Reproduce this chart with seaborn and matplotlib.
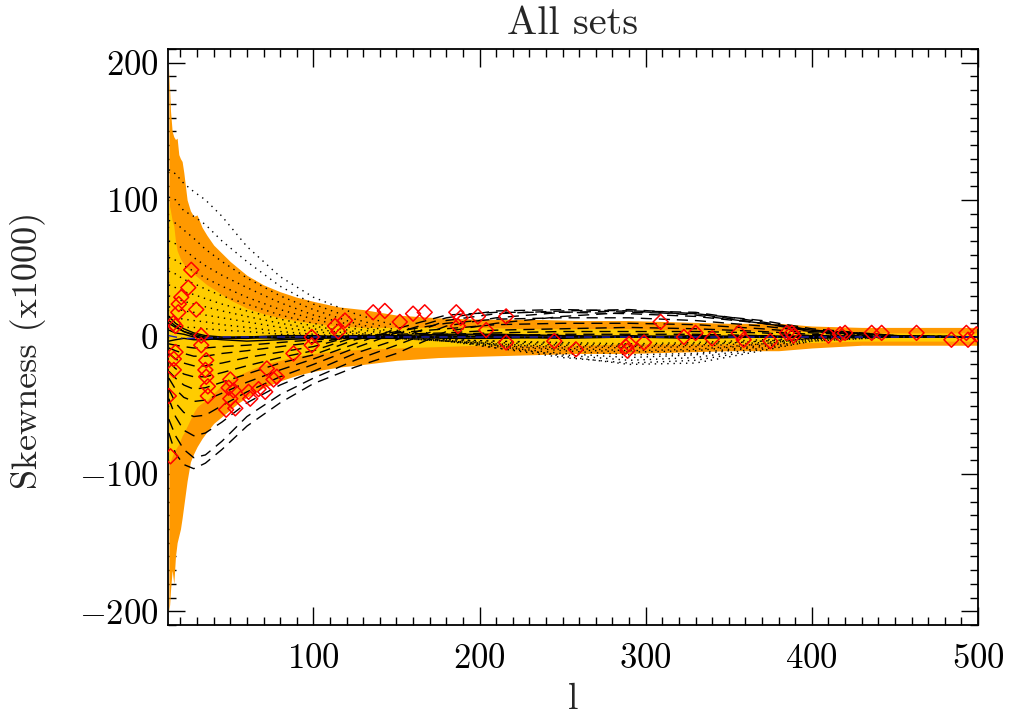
import numpy as np
import pandas as pd
import matplotlib
matplotlib.use("Agg")
import matplotlib.pyplot as plt
import seaborn as sns
from matplotlib.ticker import MultipleLocator

# ---------------- data ----------------
band_l = [13, 13.5, 14, 15, 16, 17, 18, 19, 20, 21, 22, 24, 26, 28, 30, 33, 36, 40, 45, 50,
          55, 60, 70, 80, 90, 100, 115, 130, 150, 175, 200, 230, 260, 290, 320, 350, 380, 400,
          430, 460, 500]
orange_hi = [197, 180, 165, 150, 146, 144, 145, 133, 130, 128, 120, 100, 92, 88, 89, 80, 74, 67,
             61, 55, 50, 45, 38, 33, 29, 26, 22, 20, 16, 14, 13, 13, 12, 12, 11, 10, 10, 8, 7, 7, 7]
orange_lo = [-200, -195, -185, -170, -180, -160, -150, -145, -140, -132, -123, -105, -91, -85, -80,
             -74, -69, -63, -58, -53, -48, -44, -37, -32, -28, -25, -22, -20, -17, -15, -14, -13,
             -12, -12, -11, -10, -10, -8, -6, -6, -6]
yellow_hi = [100, 95, 92, 85, 81, 70, 63, 60, 57, 55, 53, 50, 48, 46, 44, 41, 38, 35, 31, 27, 24,
             21, 17, 14, 12, 10, 8, 7, 7, 7, 7, 6, 6, 6, 5, 5, 4, 4, 3, 3, 3]
yellow_lo = [-93, -92, -90, -87, -84, -82, -80, -78, -75, -72, -70, -65, -60, -55, -51, -48, -46,
             -41, -35, -31, -28, -25, -20, -17, -14, -12, -10, -9, -8, -7, -6, -6, -6, -5, -5, -5,
             -4, -4, -3, -3, -3]

line_l = [13, 17, 22, 28, 35, 45, 60, 80, 100, 125, 150, 180, 210, 250, 290, 330, 370, 400, 450, 500]

dotted_lines = {
    "dot1": [122, 119, 112, 106, 100, 88, 66, 44, 29, 17, 8, 0, -6, -14, -20, -19, -10, -3, 0, 0],
    "dot2": [102, 100, 92, 88, 82, 70, 55, 37, 24, 13, 5, -2, -8, -15, -19, -17, -9, -3, 0, 0],
    "dot3": [85, 83, 78, 72, 64, 55, 43, 30, 20, 10, 3, -3, -8, -13, -17, -15, -8, -2, 0, 0],
    "dot4": [70, 68, 64, 58, 52, 45, 36, 25, 16, 8, 2, -3, -7, -12, -15, -13, -7, -2, 1, 0],
    "dot5": [58, 56, 52, 48, 43, 37, 29, 20, 13, 6, 1, -3, -6, -10, -13, -12, -6, -1, 1, 0],
    "dot6": [48, 46, 42, 39, 35, 30, 24, 16, 10, 4, 0, -3, -6, -9, -11, -10, -5, -1, 1, 0],
    "dot7": [38, 36, 33, 31, 28, 24, 19, 13, 8, 3, -1, -3, -5, -8, -10, -9, -5, -1, 0, 0],
    "dot8": [30, 28, 26, 24, 22, 19, 15, 10, 6, 2, -1, -3, -5, -7, -8, -7, -4, -1, 0, 0],
    "dot9": [22, 21, 19, 18, 16, 14, 11, 7, 4, 1, -1, -3, -4, -6, -7, -6, -3, -1, 0, 0],
    "dot10": [15, 14, 13, 12, 11, 9, 7, 4, 2, 0, -1, -2, -3, -5, -6, -5, -3, -1, 0, 0],
    "dot11": [8, 8, 7, 7, 6, 5, 4, 2, 1, 0, -1, -2, -3, -4, -5, -4, -2, -1, 0, 0],
}
dashed_lines = {
    "dash1": [-70, -85, -93, -96, -92, -82, -65, -48, -34, -22, -12, 4, 10, 15, 18, 17, 10, 5, 1, 0],
    "dash2": [-60, -72, -82, -88, -86, -76, -58, -42, -30, -17, -6, 8, 14, 18, 19, 18, 11, 5, 1, 0],
    "dash3": [-45, -58, -68, -72, -70, -62, -48, -35, -25, -12, -2, 12, 17, 19, 20, 17, 12, 6, 1, 0],
    "dash4": [-38, -48, -55, -58, -57, -50, -40, -29, -20, -8, 3, 14, 19, 20, 19, 16, 10, 5, 1, 0],
    "dash5": [-30, -38, -44, -47, -46, -41, -33, -24, -16, -5, 6, 16, 18, 18, 17, 15, 10, 4, 1, 0],
    "dash6": [-25, -30, -35, -38, -37, -33, -27, -19, -13, -2, 4, 10, 13, 14, 14, 12, 8, 4, 0, 0],
    "dash7": [-18, -23, -27, -29, -29, -26, -21, -15, -10, 0, 3, 6, 9, 10, 10, 9, 6, 3, 0, 0],
    "dash8": [-12, -16, -19, -21, -21, -19, -15, -11, -7, 1, 2, 3, 5, 6, 7, 6, 4, 2, 0, 0],
    "dash9": [-8, -10, -12, -14, -14, -12, -10, -7, -4, 0, 1, 2, 3, 4, 4, 4, 3, 1, 0, 0],
    "dash10": [-5, -6, -7, -8, -8, -7, -6, -4, -2, -1, 0, 1, 1, 2, 2, 2, 1, 1, 0, 0],
}
solid_lines = {
    "sol1": [15, 10, 6, 3, 1, 0, 0, 1, 1, 0, 1, 2, 2, 1, 0, 0, 1, 0, 0, 0],
    "sol2": [10, 7, 4, 2, 0, -1, 0, 0, -1, 0, 0, 1, 0, -1, 0, 1, 0, 0, 0, 0],
    "sol3": [5, 3, 2, 0, -1, -1, -1, 0, 0, 1, 0, -1, -1, 0, 0, 0, 0, 0, 0, 0],
    "sol4": [-3, -2, -1, -2, -2, -1, 0, -1, 0, -1, -1, 0, 1, 1, 0, -1, 0, 1, 0, 0],
    "sol5": [12, 8, 4, 1, -1, -2, -3, -2, -1, 0, 0, 0, 0, 0, 1, 0, 0, 0, 0, 0],
}
blue_line = [1, 0, -1, -1, -1, 0, 0, 0, 0, 0, 0, 0, 0, 0, 0, 0, 0, 0, 0, 0]

diamond_l = [26.5, 24.7, 20.5, 19, 18.7, 29.5, 15.7, 17, 32.5, 32.5, 17, 16, 35.5, 16, 35, 35.5,
             36.5, 36.5, 13, 14, 50, 49, 52, 50, 47.5, 53, 61, 62, 67, 71, 72, 76, 78, 88,
             99, 99, 113, 115, 119, 136, 143, 152, 160, 167, 186, 188.6, 187, 199, 204, 216,
             216, 245, 258, 288, 289, 290, 299, 309, 323, 330, 340, 356, 359, 375, 385, 388,
             389, 410, 417, 420, 436, 442, 463, 484, 493, 494, 499]
diamond_v = [49, 36, 29, 24, 18, 20, 10, 8, 1, -6, -11, -16, -17, -24, -24, -29,
             -36, -43, -43, -87, -31, -37, -39, -45, -53, -52, -40, -45, -38, -40, -23, -31, -29, -12,
             0, -6, 8, 4, 12, 18, 19, 11, 17, 18, 18, 14, 8, 15, 5, 15,
             -4, -3, -9, -7, -10, -5, -4, 11, 0, 3, -1, 3, -2, -3, 3, 3,
             1, 1, 2, 3, 3, 3, 3, -2, 3, -2, 2]

# ---------------- style ----------------
sns.set_style("ticks")
plt.rcParams["font.family"] = ["cmr10", "DejaVu Serif"]
plt.rcParams["mathtext.fontset"] = "cm"
plt.rcParams["axes.formatter.use_mathtext"] = True
plt.rcParams["axes.unicode_minus"] = True

fig = plt.figure(figsize=(10.13, 7.21), dpi=100)
ax = fig.add_axes([168 / 1013, 1 - 625 / 721, 810 / 1013, 576 / 721])

ax.fill_between(band_l, orange_lo, orange_hi, color="#FF9900", lw=0, zorder=1)
ax.fill_between(band_l, yellow_lo, yellow_hi, color="#FFCC00", lw=0, zorder=1.1)

rows = []
for kind, group in (("dotted", dotted_lines), ("dashed", dashed_lines), ("solid", solid_lines)):
    for name, vals in group.items():
        for l, v in zip(line_l, vals):
            rows.append({"l": l, "value": v, "curve": name, "kind": kind})
df = pd.DataFrame(rows)

sns.lineplot(data=df, x="l", y="value", units="curve", estimator=None, style="kind",
             dashes={"dotted": (1, 3.5), "dashed": (8, 5), "solid": ""},
             color="black", lw=1.0, legend=False, sort=False, ax=ax, zorder=2)

sns.lineplot(x=line_l, y=blue_line, color="#2323B0", lw=1.0, linestyle=(0, (6, 3, 1, 3)),
             ax=ax, zorder=2.5, legend=False)

sns.scatterplot(x=diamond_l, y=diamond_v, marker="D", s=58, color="red",
                facecolors="none", edgecolor="red", linewidth=1.1, zorder=4,
                legend=False, ax=ax)

ax.set_xlim(12.5, 500)
ax.set_ylim(-210, 210)
ax.set_axisbelow(True)

ax.xaxis.set_major_locator(MultipleLocator(100))
ax.xaxis.set_minor_locator(MultipleLocator(10))
ax.yaxis.set_major_locator(MultipleLocator(100))
ax.yaxis.set_minor_locator(MultipleLocator(10))

ax.tick_params(axis="both", which="both", direction="in", top=True, right=True,
               colors="black", width=1.0)
ax.tick_params(axis="x", which="major", length=13, pad=13, labelsize=25)
ax.tick_params(axis="x", which="minor", length=6)
ax.tick_params(axis="y", which="major", length=12, pad=7, labelsize=25)
ax.tick_params(axis="y", which="minor", length=6)

for sp in ax.spines.values():
    sp.set_visible(True)
    sp.set_color("black")
    sp.set_linewidth(1.3)

ax.set_title("All sets", fontsize=29, pad=11)
ax.set_xlabel("l", fontsize=27, labelpad=6)
ax.set_ylabel("Skewness (x1000)", fontsize=26)
ax.yaxis.set_label_coords(-0.151, 0.476)

fig.savefig("out.png", dpi=100)
